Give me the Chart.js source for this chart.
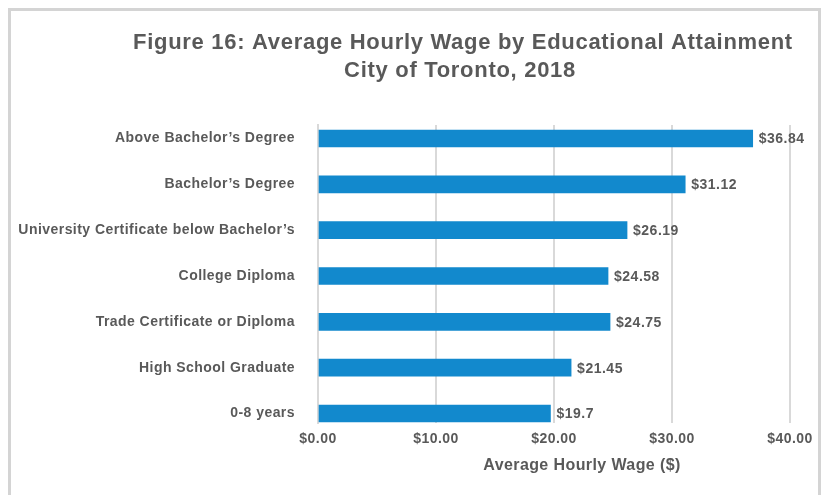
<!DOCTYPE html>
<html>
<head>
<meta charset="utf-8">
<script src="https://cdn.jsdelivr.net/npm/chart.js@4"></script>
<style>
  html, body { margin: 0; padding: 0; background: #ffffff; }
  #wrap { position: relative; width: 822px; height: 495px; overflow: hidden; }
  #frame { position: absolute; left: 8px; top: 8px; width: 807px; height: 500px; border: 3px solid #d4d4d4; }
  canvas { position: absolute; left: 0; top: 0; }
</style>
</head>
<body>
<div id="wrap">
  <div id="frame"></div>
  <canvas id="c" width="822" height="495"></canvas>
</div>
<script>
const titleLines = ["Figure 16: Average Hourly Wage by Educational Attainment", "City of Toronto, 2018"];
const categories = [
  "Above Bachelor\u2019s Degree",
  "Bachelor\u2019s Degree",
  "University Certificate below Bachelor\u2019s",
  "College Diploma",
  "Trade Certificate or Diploma",
  "High School Graduate",
  "0-8 years"
];
const wages = [36.84, 31.12, 26.19, 24.58, 24.75, 21.45, 19.7];
const xTicks = [0, 10, 20, 30, 40];
const xAxisTitle = "Average Hourly Wage ($)";

const TEXT = "#595959";
const FONT = "'Liberation Sans', Arial, Helvetica, sans-serif";

const spacingPlugin = {
  id: "spacing",
  beforeDraw(chart) { chart.ctx.letterSpacing = "0.45px"; }
};

const textPlugin = {
  id: "texts",
  afterDraw(chart) {
    const ctx = chart.ctx;
    ctx.save();
    ctx.fillStyle = TEXT;
    ctx.textAlign = "center";
    ctx.textBaseline = "alphabetic";
    ctx.font = "bold 22px " + FONT;
    ctx.letterSpacing = "0.7px";
    ctx.fillText(titleLines[0], 463, 49);
    ctx.fillText(titleLines[1], 460, 77);
    ctx.font = "bold 16px " + FONT;
    ctx.letterSpacing = "0.4px";
    ctx.textBaseline = "middle";
    ctx.fillText(xAxisTitle, 582, 466);
    // value labels
    ctx.font = "bold 14px " + FONT;
    ctx.letterSpacing = "0.5px";
    ctx.textAlign = "left";
    const meta = chart.getDatasetMeta(0);
    meta.data.forEach((bar, i) => {
      ctx.fillText("$" + wages[i], bar.x + 6, bar.y + 1);
    });
    ctx.restore();
  }
};

new Chart(document.getElementById("c"), {
  type: "bar",
  data: {
    datasets: [{
      data: wages.map((v, i) => ({ x: v, y: i })),
      backgroundColor: "#1289cd",
      borderWidth: 0,
      barThickness: 17
    }]
  },
  options: {
    indexAxis: "y",
    responsive: false,
    animation: false,
    layout: { padding: { left: 0, top: 125, right: 32, bottom: 0 } },
    plugins: { legend: { display: false }, tooltip: { enabled: false }, title: { display: false } },
    scales: {
      y: {
        type: "linear",
        reverse: true,
        offset: false,
        min: -0.295,
        max: 6.207,
        afterFit(scale) { scale.width = 318; },
        grid: { display: false, drawTicks: false, offset: false },
        border: { display: true, color: "#d9d9d9", width: 2 },
        ticks: {
          stepSize: 1,
          includeBounds: false,
          autoSkip: false,
          padding: 23,
          color: TEXT,
          font: { family: FONT, size: 14, weight: "bold" },
          callback: (v) => Number.isInteger(v) ? categories[v] : ""
        }
      },
      x: {
        type: "linear",
        min: xTicks[0],
        max: xTicks[xTicks.length - 1],
        afterFit(scale) { scale.height = 72; },
        afterBuildTicks(scale) { scale.ticks = xTicks.map(v => ({ value: v })); },
        grid: { color: "#d9d9d9", lineWidth: 2, drawTicks: false },
        border: { display: false },
        ticks: {
          padding: 8,
          maxRotation: 0,
          color: TEXT,
          font: { family: FONT, size: 14, weight: "bold" },
          callback: (v) => "$" + Number(v).toFixed(2)
        }
      }
    }
  },
  plugins: [spacingPlugin, textPlugin]
});
</script>
</body>
</html>
